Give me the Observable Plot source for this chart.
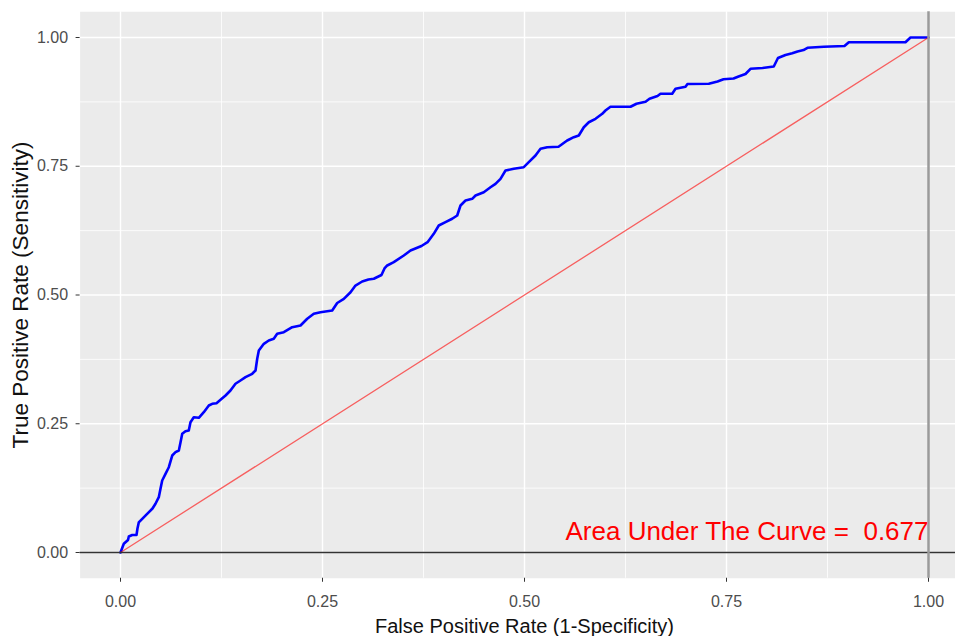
<!DOCTYPE html>
<html><head><meta charset="utf-8">
<script src="https://cdn.jsdelivr.net/npm/d3@7"></script>
<script src="https://cdn.jsdelivr.net/npm/@observablehq/plot@0.6"></script>
<style>
html,body{margin:0;padding:0;background:#fff;overflow:hidden;}
#chart svg{overflow:hidden;display:block;}
</style></head><body><div id="chart"></div>
<script>
// ROC curve points
const fpr = [0,0.0041,0.0093,0.0103,0.0145,0.0198,0.021,0.0226,0.0269,0.033,0.0396,0.0433,0.0474,0.0495,0.0516,0.0557,0.0598,0.064,0.0681,0.0722,0.0743,0.0764,0.0804,0.0845,0.0866,0.0907,0.0969,0.1031,0.1093,0.1135,0.1188,0.1238,0.13,0.1361,0.1423,0.1485,0.1547,0.163,0.1671,0.1692,0.1712,0.1774,0.1835,0.1897,0.1939,0.2021,0.2125,0.2228,0.2311,0.2392,0.2475,0.262,0.2682,0.2764,0.2847,0.2908,0.2991,0.3069,0.3135,0.323,0.3267,0.3301,0.3382,0.3506,0.3589,0.3725,0.38,0.3877,0.3939,0.4022,0.4105,0.4167,0.4208,0.427,0.4353,0.4394,0.4496,0.4579,0.4641,0.4703,0.4765,0.4868,0.4991,0.5053,0.5136,0.5198,0.5281,0.5421,0.5528,0.561,0.5672,0.5734,0.5796,0.5879,0.5962,0.6002,0.6064,0.6312,0.6386,0.6498,0.6547,0.6646,0.6683,0.6828,0.6869,0.6993,0.7017,0.7281,0.7389,0.7463,0.7587,0.7649,0.7735,0.7797,0.7946,0.8085,0.8137,0.823,0.8313,0.8379,0.8453,0.8502,0.8704,0.896,0.9014,0.9715,0.9777,1];
const tpr = [0,0.0169,0.0243,0.0311,0.034,0.034,0.0466,0.0583,0.0654,0.0751,0.0854,0.0946,0.1074,0.1237,0.1398,0.1528,0.1656,0.1883,0.1948,0.1981,0.2142,0.2305,0.2355,0.2369,0.253,0.2627,0.2616,0.2724,0.2854,0.2887,0.2899,0.2965,0.3049,0.3146,0.3276,0.334,0.3404,0.347,0.3534,0.3761,0.3922,0.4052,0.4117,0.415,0.4247,0.4278,0.4375,0.4408,0.4538,0.4635,0.4666,0.4699,0.4845,0.4926,0.5054,0.5184,0.5262,0.5301,0.5315,0.5388,0.5515,0.5573,0.5637,0.5767,0.5864,0.5951,0.6025,0.6188,0.635,0.6414,0.648,0.6544,0.6738,0.6835,0.6868,0.6932,0.6996,0.7093,0.7159,0.7256,0.7417,0.745,0.7482,0.7579,0.7709,0.7839,0.787,0.7878,0.8,0.8064,0.8097,0.8258,0.8355,0.8421,0.8518,0.8583,0.8656,0.8656,0.8713,0.8751,0.881,0.8864,0.8907,0.8907,0.9004,0.9043,0.9097,0.9101,0.9146,0.9188,0.9204,0.9243,0.9291,0.9392,0.9408,0.9437,0.9602,0.966,0.9693,0.9728,0.9757,0.98,0.9819,0.9835,0.9909,0.9909,1,1];
const diagX = [0, 1];
const diagY = [0, 1];
const majorBreaks = [0, 0.25, 0.5, 0.75, 1];
const minorBreaks = [0.125, 0.375, 0.625, 0.875];
const tickLabels = ["0.00", "0.25", "0.50", "0.75", "1.00"];
const hlineY = [0];
const vlineX = [1];
const xTitle = "False Positive Rate (1-Specificity)";
const yTitle = "True Positive Rate (Sensitivity)";
const aucLabel = "Area Under The Curve =  0.677";
const aucX = [1];
const aucY = [0.025];

const roc = fpr.map((f, i) => ({fpr: f, tpr: tpr[i]}));
const diag = diagX.map((d, i) => ({x: d, y: diagY[i]}));
const fmt = d => tickLabels[majorBreaks.indexOf(d)];
const font = "'Liberation Sans', Arial, Helvetica, sans-serif";

const W = 955, H = 636;
const mL = 79.6, mT = 11.25, mB = 58.25, mR = -13.4;

const chart = Plot.plot({
  width: W, height: H,
  marginLeft: mL, marginTop: mT, marginBottom: mB, marginRight: mR,
  style: {fontFamily: font, background: "#fff", overflow: "hidden"},
  x: {domain: [-0.05, 1.05], range: [mL, W - mR]},
  y: {domain: [-0.05, 1.05], range: [H - mB, mT]},
  marks: [
    Plot.frame({fill: "#ebebeb", stroke: null}),
    Plot.ruleX(minorBreaks, {stroke: "#fff", strokeWidth: 0.8}),
    Plot.ruleY(minorBreaks, {stroke: "#fff", strokeWidth: 0.8}),
    Plot.ruleX(majorBreaks, {stroke: "#fff", strokeWidth: 1.4}),
    Plot.ruleY(majorBreaks, {stroke: "#fff", strokeWidth: 1.4}),
    Plot.line(roc, {x: "fpr", y: "tpr", stroke: "#0000ff", strokeWidth: 2.6, curve: "linear"}),
    Plot.line(diag, {x: "x", y: "y", stroke: "#ff0000", strokeOpacity: 0.6, strokeWidth: 1.3}),
    Plot.ruleY(hlineY, {stroke: "#333", strokeWidth: 1.5}),
    Plot.ruleX(vlineX, {stroke: "#9a9a9a", strokeWidth: 2.5}),
    Plot.text(aucY, {x: aucX, y: d => d, text: () => aucLabel, textAnchor: "end", lineAnchor: "bottom", fill: "#ff0000", fontSize: 26, fontFamily: font}),
    Plot.axisX(majorBreaks, {tickFormat: fmt, tickSize: 4, tickPadding: 13, stroke: "#333", fill: "#4d4d4d", fontSize: 16, label: null, fontFamily: font}),
    Plot.axisY(majorBreaks, {tickFormat: fmt, tickSize: 4, tickPadding: 8, stroke: "#333", fill: "#4d4d4d", fontSize: 16, label: null, fontFamily: font}),
    Plot.text([xTitle], {text: d => d, frameAnchor: "bottom", lineAnchor: "bottom", textAnchor: "middle", dy: 55, fill: "#111", fontSize: 20, fontFamily: font}),
    Plot.text([yTitle], {text: d => d, frameAnchor: "left", lineAnchor: "bottom", textAnchor: "middle", rotate: -90, dx: -52, fill: "#111", fontSize: 22.5, fontFamily: font})
  ]
});
document.getElementById("chart").appendChild(chart);
</script>
</body></html>
